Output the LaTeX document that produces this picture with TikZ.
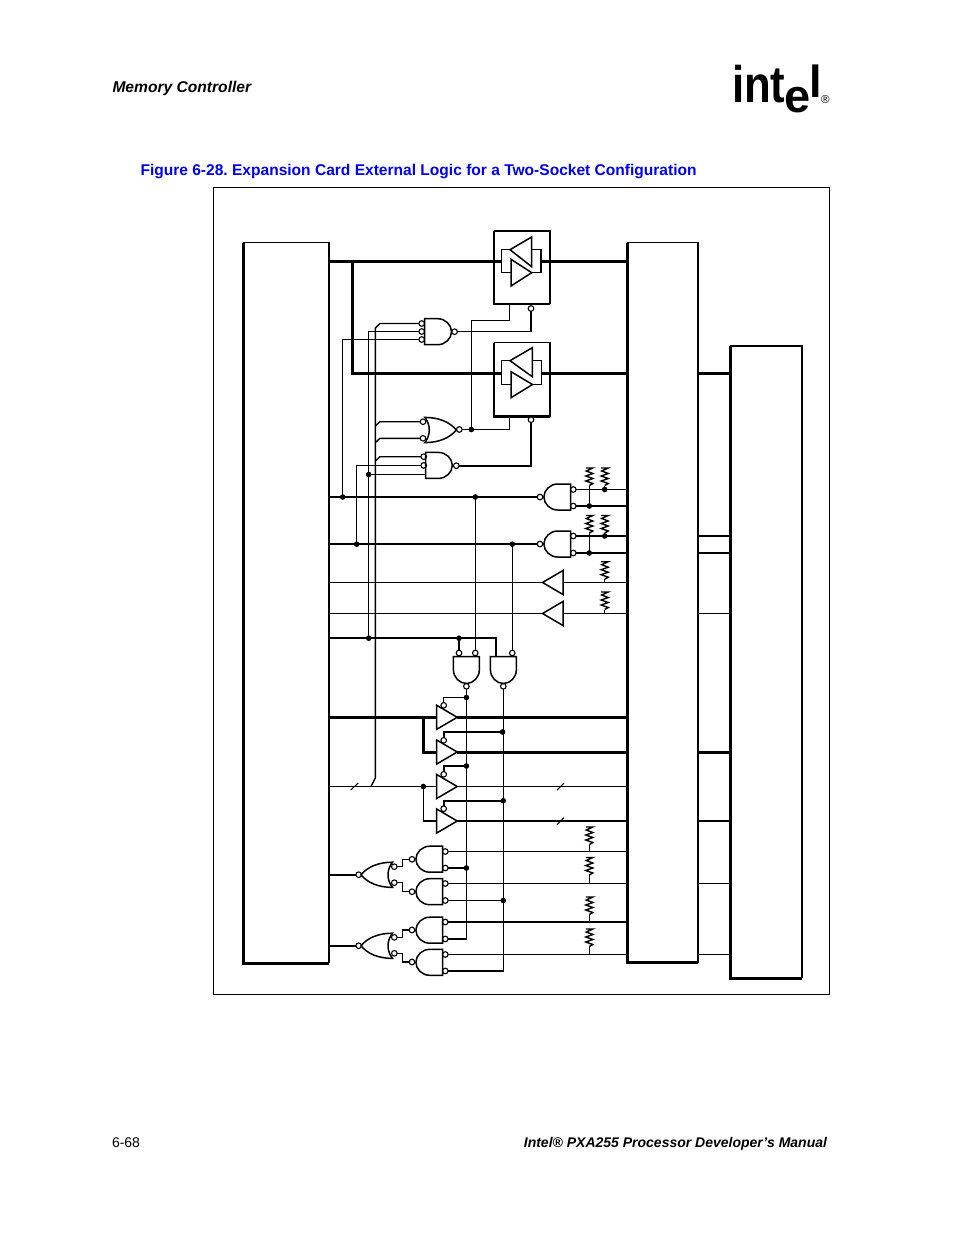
\documentclass[tikz,border=0pt]{standalone}
\usepackage{fontspec}
\usepackage{graphicx}
\setmainfont{Liberation Sans}
\frenchspacing
\definecolor{figblue}{RGB}{0,0,238}
\tikzset{
  wthin/.style={line width=1.05pt},
  wmed/.style={line width=1.4pt},
  wthick/.style={line width=2pt},
  bus/.style={line width=3pt},
  gate/.style={line width=1.5pt,line join=miter},
  bub/.style={circle,draw,fill=white,line width=1.1pt,minimum size=5.6pt,inner sep=0pt,outer sep=0pt},
  jdot/.style={circle,fill=black,minimum size=5.6pt,inner sep=0pt,outer sep=0pt},
  box/.style={rectangle,draw=none,inner sep=0pt,outer sep=0pt},
  txt/.style={inner sep=0pt,outer sep=0pt,anchor=base west},
  andg/.pic={\draw[gate] (0,-13) -- (13,-13) .. controls (20.5,-13) and (26.8,-7) .. (26.8,0) .. controls (26.8,7) and (20.5,13) .. (13,13) -- (0,13) -- cycle;},
  norg/.pic={\draw[gate] (0,-12.6) .. controls (14,-12.6) and (25,-8) .. (31.5,0) .. controls (25,8) and (14,12.6) .. (0,12.6) .. controls (6,5) and (6,-5) .. (0,-12.6) -- cycle;},
  bufg/.pic={\draw[gate] (0,-12) -- (20.5,0) -- (0,12) -- cycle;},
  resg/.pic={\draw[wmed,line join=miter] (-3.5,0) -- (3.5,0) -- (-3,3) -- (3.5,5.5) -- (-3.5,8) -- (3.5,10.5) -- (-3.5,13) -- (3.5,15.5) -- (0,17.5);},
}
\newcommand{\bb}[3]{\node[bub] (#1) at (#2,#3) {};}
\newcommand{\jd}[3]{\node[jdot] (#1) at (#2,#3) {};}
\begin{document}
\begin{tikzpicture}[x=1pt,y=-1pt]
\useasboundingbox (0,0) rectangle (954,1235);
% page texts
\node[txt,font=\fontsize{15.6}{18}\selectfont\bfseries\itshape] (head) at (112.5,92) {Memory Controller};
\node[txt,font=\fontsize{15.55}{18}\selectfont\bfseries,text=figblue] (title) at (140.5,175) {Figure 6-28. Expansion Card External Logic for a Two-Socket Configuration};
\node[txt,font=\fontsize{14}{18}\selectfont] (pageno) at (112,1147) {6-68};
\node[inner sep=0pt,outer sep=0pt,anchor=base east,font=\fontsize{14}{18}\selectfont\bfseries\itshape] (manual) at (827,1147) {Intel® PXA255 Processor Developer’s Manual};
% logo
\node[txt,font=\fontsize{51.5}{52}\selectfont\bfseries] (logoa) at (732,102) {\scalebox{.85}[1]{int}};
\node[txt,font=\fontsize{47}{47}\selectfont\bfseries] (logob) at (784,112.7) {e};
\node[txt,font=\fontsize{45}{45}\selectfont\bfseries] (logoc) at (809.3,97) {l};
\node[txt,font=\fontsize{11.5}{12}\selectfont] (logod) at (821,103.5) {®};
% frame
\node[box,draw=black,line width=0.8pt,minimum width=616pt,minimum height=807pt] (frame) at (521.5,591) {};
% chips
\node[box,minimum width=86pt,minimum height=720.5pt] (L) at (286,602.75) {};
\node[box,minimum width=71pt,minimum height=720pt] (M) at (662.5,602.5) {};
\node[box,minimum width=71.5pt,minimum height=632pt] (R) at (766.2,662) {};
\draw[wthin] (L.north west) -- (L.north east) -- (L.south east);
\draw[bus] (L.north west) -- (L.south west) -- (L.south east);
\draw[wmed] (M.north west) -- (M.north east) -- (M.south east);
\draw[bus] (M.north west) -- (M.south west) -- (M.south east);
\draw[wmed] (R.north west) -- (R.north east) -- (R.south east);
\draw[bus] (R.north west) -- (R.south west) -- (R.south east);
% transceivers
\node[box,minimum width=56pt,minimum height=73pt] (T1) at (522,267.6) {};
\node[box,minimum width=56pt,minimum height=74pt] (T2) at (522,379.6) {};
\foreach \t in {T1,T2}{
  \draw[wmed] (\t.south east) -- (\t.north east) -- (\t.north west);
  \draw[wthick,line width=2.5pt] (\t.north west) -- (\t.south west) -- (\t.south east);
}
\draw[gate] (510,249.7) -- (531.7,237) -- (531.7,266.7) -- cycle;
\draw[gate] (511,259.3) -- (531.7,272.7) -- (511,286) -- cycle;
\draw[gate] (510,249.7) -- (501.5,249.7) -- (501.5,272.7) -- (511,272.7);
\draw[gate] (531.7,249.7) -- (541,249.7) -- (541,272.7) -- (531.7,272.7);
\draw[gate] (510,360.7) -- (532.3,347.7) -- (532.3,376.7) -- cycle;
\draw[gate] (511,371.7) -- (532.5,384.5) -- (511,397.7) -- cycle;
\draw[gate] (510,360.7) -- (501.5,360.7) -- (501.5,384.5) -- (511,384.5);
\draw[gate] (532.3,360.7) -- (541.5,360.7) -- (541.5,384.5) -- (532.5,384.5);
\coordinate (t1l) at (501.5,261.5);
\coordinate (t1r) at (541,261.5);
\coordinate (t2l) at (501.5,373.3);
\coordinate (t2r) at (541.5,373.3);
\coordinate (busT) at (352.5,261.5);
\draw[bus] (t1l -| L.east) -- (t1l);
\draw[bus] (t1r) -- (t1r -| M.west);
\draw[bus] (busT) -- (busT |- t2l) -- (t2l);
\draw[bus] (t2r) -- (t2r -| M.west);
\draw[bus] (t2r -| M.east) -- (t2r -| R.west);
% bubbles
\bb{oe1}{531}{308.5}
\bb{oe2}{531}{419.7}
\bb{n1a}{421.7}{323.5}
\bb{n1b}{421.7}{331.5}
\bb{n1c}{421.7}{339.5}
\bb{n1o}{454.6}{331.7}
\bb{o1a}{423}{421.7}
\bb{o1b}{423}{438.3}
\bb{o1o}{459.3}{429.5}
\bb{n2a}{423.7}{456.7}
\bb{n2b}{423.7}{465.4}
\bb{n2o}{456.3}{465.7}
\bb{r1o}{540}{497}
\bb{r1a}{573.3}{489.5}
\bb{r1b}{573.3}{506}
\bb{r2o}{540}{544}
\bb{r2a}{573.3}{536}
\bb{r2b}{573.3}{553}
\bb{da1}{459}{653}
\bb{da2}{475.3}{653}
\bb{db2}{512.3}{653}
\bb{dao}{466.4}{686.3}
\bb{dbo}{503.3}{686.3}
\bb{e1}{443.7}{705.3}
\bb{e2}{443.7}{740.3}
\bb{e3}{443.7}{774.3}
\bb{e4}{443.7}{808.7}
\bb{g1o}{412}{859.3}
\bb{g1a}{445.3}{851.5}
\bb{g1b}{445.3}{868}
\bb{g2o}{412}{891.7}
\bb{g2a}{445.3}{883.5}
\bb{g2b}{445.3}{900.5}
\bb{g3o}{412}{930}
\bb{g3a}{445.3}{922}
\bb{g3b}{445.3}{939}
\bb{g4o}{412}{962}
\bb{g4a}{445.3}{954.5}
\bb{g4b}{445.3}{971}
\bb{q1o}{358.7}{874.7}
\bb{q1a}{394.3}{866.7}
\bb{q1b}{394.3}{882.7}
\bb{q2o}{358.7}{945.7}
\bb{q2a}{394.3}{937.3}
\bb{q2b}{394.3}{953.3}
% junctions
\jd{j471}{471.3}{429.5}
\jd{j343}{342.7}{497}
\jd{j475}{475.3}{497}
\jd{j357}{356.7}{544.2}
\jd{j512}{512.3}{544.2}
\jd{j369t}{368.7}{474.5}
\jd{j369}{368.7}{638.2}
\jd{j459}{459}{638.2}
\jd{j590a}{589.3}{506}
\jd{j605a}{604.7}{489.5}
\jd{j590b}{589.3}{553}
\jd{j605b}{604.7}{536}
\jd{j467a}{466.4}{697.5}
\jd{j503a}{502.5}{732}
\jd{j467b}{466.4}{766}
\jd{j503b}{503.3}{800.7}
\jd{j423}{423.3}{786.5}
\jd{j467c}{466.4}{868}
\jd{j503c}{503.3}{900.5}
% gates
\pic at (424.7,331.7) {andg};
\pic at (425.5,465.4) {andg};
\pic at (424.8,430) {norg};
\pic[rotate=180] at (570.7,497) {andg};
\pic[rotate=180] at (570.7,544) {andg};
\pic[rotate=180] at (563,582.5) {bufg};
\pic[rotate=180] at (563,613.5) {bufg};
\pic[rotate=-90] at (466.4,656.7) {andg};
\pic[rotate=-90] at (503.4,656.7) {andg};
\pic at (436.7,717.3) {bufg};
\pic at (436.7,752) {bufg};
\pic at (436.7,786.5) {bufg};
\pic at (436.7,821) {bufg};
\pic[rotate=180] at (442.7,859.2) {andg};
\pic[rotate=180] at (442.7,891.7) {andg};
\pic[rotate=180] at (442.7,930.2) {andg};
\pic[rotate=180] at (442.7,962.3) {andg};
\pic[rotate=180] at (392.5,874.8) {norg};
\pic[rotate=180] at (392.5,945.8) {norg};
% gate terminals
\coordinate (b1i) at (436.7,717.3); \coordinate (b1o) at (457.2,717.3);
\coordinate (b2i) at (436.7,752);   \coordinate (b2o) at (457.2,752);
\coordinate (b3i) at (436.7,786.5); \coordinate (b3o) at (457.2,786.5);
\coordinate (b4i) at (436.7,821);   \coordinate (b4o) at (457.2,821);
\coordinate (s1l) at (542.5,582.5); \coordinate (s1r) at (563,582.5);
\coordinate (s2l) at (542.5,613.5); \coordinate (s2r) at (563,613.5);
\coordinate (t1s) at (509.5,304);
\coordinate (t2s) at (509.5,416.6);
\coordinate (dbi) at (495.7,656.7);
\coordinate (n2c) at (425.5,474.5);
% control wires upper
\draw[wthin] (t1s) -- (509.5,320.5) -| (j471.center);
\draw[wthin] (t2s) |- (j471.center);
\draw[wthin] (o1o.east) -- (j471.center);
\draw[wmed] (oe1.south) |- (n1o.east);
\draw[wthick] (oe2.south) |- (n2o.east);
\draw[wthin] (n1c.west) -| (j343.center);
\draw[wmed] (n2b.west) -| (j357.center);
\draw[wthin] (n1b.west) -| (j369.center);
\draw[wthin] (j369t.center) -- (n2c);
\coordinate (w375) at (375.3,778);
\draw[wmed] (n1a.west) -- (380,323.5) -- (375.3,328) -- (w375) -- (371,786.5);
\draw[wmed] (o1a.west) -- (380,421.7) -- (375.3,426);
\draw[wmed] (o1b.west) -- (380,438.3) -- (375.3,442.6);
\draw[wmed] (n2a.west) -- (380,456.7) -- (375.3,461);
% buses mid
\draw[wthick] (r1o.west -| L.east) -- (r1o.west);
\draw[wthick] (r2o.west -| L.east) -- (r2o.west);
\draw[wthin] (j475.center) -- (da2.north);
\draw[wthin] (j512.center) -- (db2.north);
\draw[wthin] (r1a.east) -- (r1a.east -| M.west);
\draw[wthick] (r1b.east) -- (r1b.east -| M.west);
\draw[wthick] (r2a.east) -- (r2a.east -| M.west);
\draw[wthick] (r2b.east) -- (r2b.east -| M.west);
\draw[wthick] (r2a.east -| M.east) -- (r2a.east -| R.west);
\draw[wthick] (r2b.east -| M.east) -- (r2b.east -| R.west);
\draw[wthin] (s1l -| L.east) -- (s1l);
\draw[wthin] (s1r) -- (s1r -| M.west);
\draw[wthin] (s2l -| L.east) -- (s2l);
\draw[wthin] (s2r) -- (s2r -| M.west);
\draw[wthin] (s2r -| M.east) -- (s2r -| R.west);
\draw[wthick] (j369.center -| L.east) -- (495.7,638.2) -- (dbi);
\draw[wthin] (j459.center) -- (da1.north);
% resistors
\pic at (589.3,468) {resg};
\pic at (604.7,468) {resg};
\pic at (589.3,515.5) {resg};
\pic at (604.7,515.5) {resg};
\pic at (604.7,561.7) {resg};
\pic at (604.7,592) {resg};
\pic at (589.3,827) {resg};
\pic at (589.3,857.5) {resg};
\pic at (589.3,897) {resg};
\pic at (589.3,929) {resg};
\draw[wthin] (589.3,485.5) -- (j590a.center);
\draw[wthin] (604.7,485.5) -- (j605a.center);
\draw[wthin] (589.3,533) -- (j590b.center);
\draw[wthin] (604.7,533) -- (j605b.center);
\draw[wthin] (604.7,579.2) -- (s1r -| 604.7,0);
\draw[wthin] (604.7,609.5) -- (s2r -| 604.7,0);
\draw[wthin] (589.3,844.5) -- (589.3,851.5);
\draw[wthin] (589.3,875) -- (589.3,883.5);
\draw[wthin] (589.3,914.5) -- (589.3,922);
\draw[wthin] (589.3,946.5) -- (589.3,954.5);
% tri-state buffers
\draw[bus] (b1i -| L.east) -- (b1i);
\draw[bus] (b1o) -- (b1o -| M.west);
\draw[bus] (j423 |- b1i) -- (j423 |- b2i) -- (b2i);
\draw[bus] (b2o) -- (b2o -| M.west);
\draw[bus] (b2o -| M.east) -- (b2o -| R.west);
\draw[wthin] (b3i -| L.east) -- (b3i);
\draw[wthin] (b3o) -- (b3o -| M.west);
\draw[wmed] (j423.center) |- (b4i);
\draw[wmed] (b4o) -- (b4o -| M.west);
\draw[wthin] (b4o -| M.east) -- (b4o -| R.west);
\draw[wthin] (e1.north) |- (j467a.center);
\draw[wthick] (e2.north) |- (j503a.center);
\draw[wthick] (e3.north) |- (j467b.center);
\draw[wthick] (e4.north) |- (j503b.center);
% slashes
\draw[wthin] (350.7,790) -- (358.3,783);
\draw[wthin] (557,790) -- (564,783);
\draw[wthin] (557,824.5) -- (564,817.7);
% decode outputs
\draw[wmed] (dao.south) |- (g3b.east);
\draw[wmed] (dbo.south) |- (g4b.east);
% lower wires
\draw[wthin] (g1a.east) -- (g1a.east -| M.west);
\draw[wthick] (g1b.east) -- (j467c.center);
\draw[wmed] (g2a.east) -- (g2a.east -| M.west);
\draw[wthin] (g2b.east) -- (j503c.center);
\draw[wthick,line width=2.3pt] (g3a.east) -- (g3a.east -| M.west);
\draw[wmed] (g4a.east) -- (g4a.east -| M.west);
\draw[wthin] (g2a.east -| M.east) -- (g2a.east -| R.west);
\draw[wthin] (g4a.east -| M.east) -- (g4a.east -| R.west);
\draw[wmed] (q1a.east) -- (402.3,866.7) |- (g1o.west);
\draw[wmed] (q1b.east) -- (402.3,882.7) |- (g2o.west);
\draw[wmed] (q2a.east) -- (402.3,937.3) |- (g3o.west);
\draw[wmed] (q2b.east) -- (402.3,953.3) |- (g4o.west);
\draw[wthick] (q1o.west -| L.east) -- (q1o.west);
\draw[wthick] (q2o.west -| L.east) -- (q2o.west);
\end{tikzpicture}
\end{document}
